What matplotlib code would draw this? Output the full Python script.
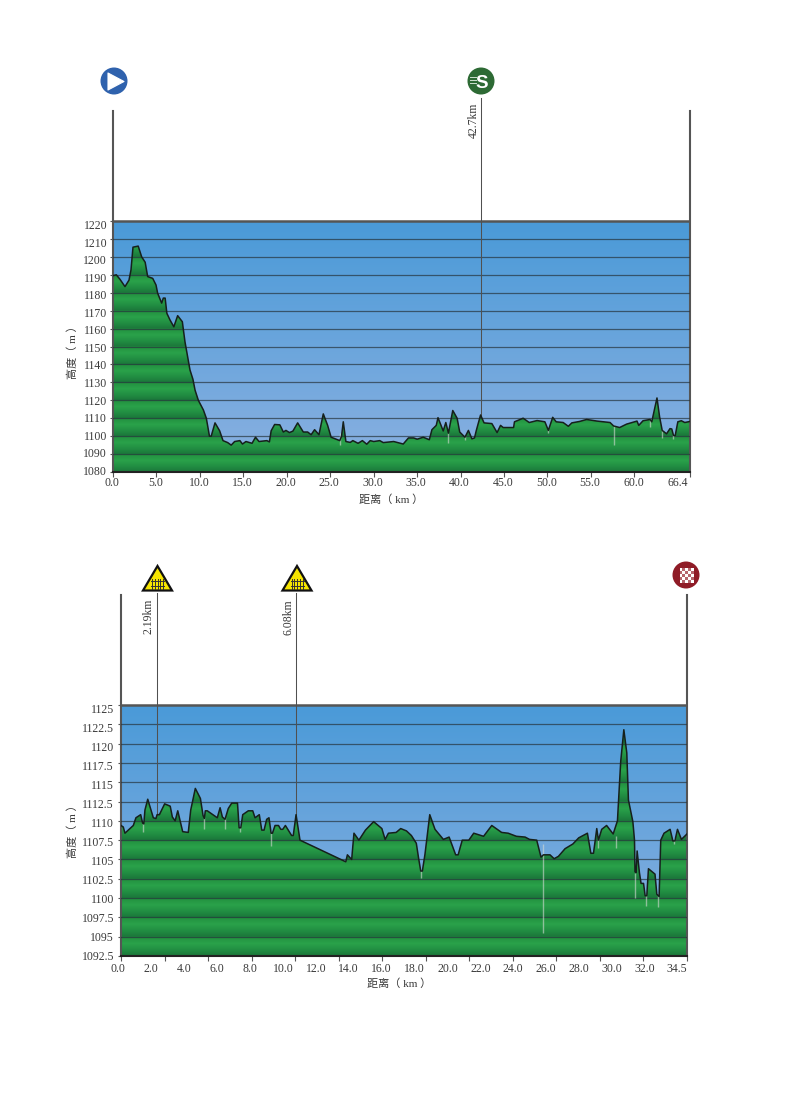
import numpy as np
import matplotlib
matplotlib.use('Agg')
import matplotlib.pyplot as plt
from matplotlib.colors import LinearSegmentedColormap
from matplotlib.patches import Circle, Polygon, Rectangle
from matplotlib.transforms import ScaledTranslation

plt.rcParams['font.family'] = ['Liberation Serif', 'Noto Sans CJK SC', 'DejaVu Sans']
plt.rcParams['font.size'] = 8.5

TEXT = '#3a3a3a'
POST = '#555555'

# upper profile
km_a = [0.0, 0.38, 0.8, 1.38, 1.84, 2.07, 2.3, 2.9, 3.3, 3.7, 3.99, 4.57, 4.95, 5.14, 5.6, 5.79, 6.0, 6.2,
        6.56, 7.0, 7.44, 7.98, 8.28, 8.86, 9.2, 9.44, 9.82, 10.4, 10.74, 11.1, 11.3, 11.74, 12.27, 12.66,
        13.2, 13.6, 14.0, 14.6, 14.9, 15.3, 16.0, 16.4, 16.8, 17.7, 18.0, 18.2, 18.6, 19.2, 19.6, 19.9,
        20.3, 20.7, 21.25, 21.9, 22.4, 22.8, 23.2, 23.7, 24.2, 24.7, 25.1, 26.1, 26.3, 26.5, 26.8, 27.3,
        27.6, 28.2, 28.7, 29.2, 29.6, 30.0, 30.7, 31.1, 32.3, 33.4, 34.0, 34.6, 35.0, 35.7, 36.4, 36.7,
        37.2, 37.4, 38.0, 38.3, 38.6, 39.1, 39.6, 39.9, 40.5, 40.9, 41.3, 41.6, 41.8, 42.3, 42.7, 43.6,
        44.2, 44.6, 44.9, 46.1, 46.2, 47.2, 47.9, 48.8, 49.7, 50.1, 50.6, 51.0, 51.8, 52.4, 52.8, 53.7,
        54.5, 55.7, 57.2, 57.6, 58.3, 59.1, 60.3, 60.5, 61.0, 61.8, 62.0, 62.6, 62.9, 63.2, 63.7, 64.1,
        64.3, 64.5, 64.7, 65.0, 65.4, 65.8, 66.4]
elev_a = [1189.5, 1190, 1187.5, 1183.4, 1187, 1192.7, 1205.4, 1206, 1200, 1197, 1189, 1188, 1184.3, 1179.7,
          1174.2, 1177, 1177, 1168.5, 1164.8, 1161, 1167.2, 1163.8, 1152.7, 1136.9, 1131.7, 1125.7, 1120,
          1114.6, 1110, 1100, 1100, 1107.4, 1103, 1097.5, 1096.4, 1095, 1097, 1097.5, 1095.6, 1097, 1096,
          1099.4, 1097, 1097.5, 1096.8, 1103, 1106.5, 1106.3, 1102.3, 1103.2, 1102, 1102.8, 1107.4, 1102.3,
          1102.3, 1100.8, 1103.6, 1100.8, 1112.4, 1106, 1099.4, 1097.5, 1100, 1108, 1097, 1096.5, 1097.5,
          1096, 1097.5, 1095.5, 1097.5, 1097, 1097.5, 1096.4, 1097, 1095.6, 1099, 1099, 1098.3, 1099.4, 1098,
          1103.6, 1106, 1110.3, 1102.9, 1107.6, 1101.7, 1114.3, 1110, 1102.3, 1099.4, 1103.2, 1098.5, 1099,
          1103, 1111.8, 1107.4, 1107, 1102, 1106, 1104.8, 1104.8, 1108, 1110, 1107.6, 1108.7, 1108, 1103.2,
          1110.5, 1108, 1107.6, 1105.5, 1107.4, 1108.2, 1109.3, 1108.4, 1107.6, 1105.7, 1104.8, 1106.7, 1108.4,
          1106, 1108.6, 1109.3, 1108, 1121.3, 1110.8, 1103.2, 1101.3, 1104.2, 1104, 1100.4, 1100.4, 1108,
          1108.6, 1107.6, 1108.2]
spike_km_a = [26.1, 38.6, 40.5, 57.6, 63.2, 64.5, 50.1, 61.8]
spike_low_a = [1095, 1096, 1098, 1095, 1099, 1098.5, 1101.5, 1105]
spike_high_a = [1102, 1102, 1100, 1106, 1104, 1101, 1104, 1109]
yticks_a = [1220, 1210, 1200, 1190, 1180, 1170, 1160, 1150, 1140, 1130, 1120, 1110, 1100, 1090, 1080]
xticks_a = [0, 5, 10, 15, 20, 25, 30, 35, 40, 45, 50, 55, 60, 66.4]
xlabels_a = ['0.0', '5.0', '10.0', '15.0', '20.0', '25.0', '30.0', '35.0', '40.0', '45.0', '50.0', '55.0',
             '60.0', '66.4']
marker_km_a = [42.4]
marker_elev_a = [1111]
marker_text_a = ['42.7km']

# lower profile
km_b = [0.0, 0.14, 0.24, 0.75, 0.91, 1.2, 1.32, 1.39, 1.46, 1.63, 1.97, 2.13, 2.2, 2.34, 2.66, 3.0, 3.13, 3.3,
        3.46, 3.76, 4.1, 4.25, 4.53, 4.84, 5.0, 5.08, 5.14, 5.26, 5.87, 6.04, 6.18, 6.34, 6.54, 6.75, 7.1,
        7.2, 7.3, 7.42, 7.76, 8.03, 8.17, 8.43, 8.58, 8.72, 8.88, 9.02, 9.15, 9.23, 9.39, 9.6, 9.74, 9.86,
        10.02, 10.4, 10.5, 10.67, 10.91, 13.7, 13.8, 14.06, 14.2, 14.5, 14.9, 15.4, 15.9, 16.1, 16.3, 16.77,
        17.05, 17.4, 17.7, 18.0, 18.13, 18.27, 18.37, 18.53, 18.82, 19.14, 19.65, 20.0, 20.4, 20.55, 20.8,
        21.2, 21.5, 22.1, 22.6, 23.2, 23.6, 24.1, 24.63, 24.9, 25.34, 25.6, 25.75, 26.15, 26.4, 26.66, 27.07,
        27.54, 27.9, 28.43, 28.64, 28.8, 29.0, 29.1, 29.3, 29.6, 30.0, 30.26, 30.46, 30.65, 30.83, 30.93,
        31.2, 31.3, 31.33, 31.4, 31.46, 31.6, 31.7, 31.85, 31.95, 32.05, 32.15, 32.55, 32.66, 32.8, 32.9,
        33.1, 33.47, 33.64, 33.76, 33.92, 34.16, 34.5]
elev_b = [1109.4, 1109.2, 1108.4, 1109.4, 1110.4, 1110.8, 1109.7, 1109.6, 1111.4, 1112.8, 1110.4, 1110.3,
          1110.8, 1110.8, 1112.2, 1111.9, 1110.5, 1110, 1111.3, 1108.6, 1108.5, 1111.4, 1114.2, 1112.9, 1110.7,
          1110.3, 1111.3, 1111.3, 1110.4, 1111.7, 1110.5, 1110.2, 1111.6, 1112.3, 1112.3, 1109.1, 1109.1,
          1110.8, 1111.3, 1111.3, 1110.4, 1110.8, 1108.8, 1108.8, 1110.2, 1110.4, 1108.4, 1108.4, 1109.4,
          1109.4, 1108.9, 1108.9, 1109.4, 1108.1, 1108.1, 1110.8, 1107.5, 1104.7, 1105.6, 1105, 1108.4, 1107.5,
          1108.8, 1109.9, 1109, 1107.6, 1108.4, 1108.5, 1109, 1108.7, 1108.1, 1107.1, 1105.3, 1103.5, 1103.5,
          1105.7, 1110.8, 1108.9, 1107.6, 1107.9, 1105.6, 1105.6, 1107.5, 1107.5, 1108.4, 1108, 1109.4, 1108.5,
          1108.4, 1108, 1107.9, 1107.6, 1107.5, 1105.3, 1105.6, 1105.6, 1105.1, 1105.4, 1106.4, 1107, 1107.8,
          1108.4, 1105.8, 1105.8, 1109, 1107.5, 1108.9, 1109.4, 1108.3, 1110, 1117.7, 1121.8, 1118.8, 1112.7,
          1109.9, 1107.5, 1103.4, 1103.3, 1106.1, 1103.3, 1101.9, 1101.9, 1100.3, 1100.3, 1103.8, 1103.1,
          1100.5, 1100.2, 1107.5, 1108.4, 1108.9, 1107.4, 1107.4, 1108.9, 1107.6, 1108.3]
spike_km_b = [1.32, 5.08, 6.34, 7.25, 9.15, 18.3, 25.71, 29.1, 30.2, 31.33, 32.0, 32.75, 33.7]
spike_low_b = [1108.5, 1109, 1109, 1108.5, 1106.8, 1102.6, 1095.5, 1106.5, 1106.5, 1100, 1099, 1098.8, 1107]
spike_high_b = [1110, 1110.5, 1110.5, 1109.5, 1108.5, 1103.6, 1107, 1108, 1108, 1103.3, 1100.5, 1100.5, 1107.8]
yticks_b = [1125, 1122.5, 1120, 1117.5, 1115, 1112.5, 1110, 1107.5, 1105, 1102.5, 1100, 1097.5, 1095, 1092.5]
xlabels_b = ['0.0', '2.0', '4.0', '6.0', '8.0', '10.0', '12.0', '14.0', '16.0', '18.0', '20.0', '22.0', '24.0',
             '26.0', '28.0', '30.0', '32.0', '34.5']
marker_km_b = [2.2, 10.67]
marker_elev_b = [1110.8, 1110.8]
marker_text_b = ['2.19km', '6.08km']

W, H = 791, 1119
fig = plt.figure(figsize=(W / 100, H / 100), dpi=100, facecolor='white')

sky_cmap = LinearSegmentedColormap.from_list('sky', ['#4a9ad8', '#8cb1e1'])
band_cmap = LinearSegmentedColormap.from_list('band', [(0, '#1b763a'), (0.3, '#218d42'), (0.65, '#2aa24a'),
                                                       (1, '#22903f')])


def profile(left, right, top, sky_top, bottom, km, elev, yticks, ylabel_pos, pad):
    # axes run from the top of the posts down to the base line, the sky only starts at yticks[0]
    ax = fig.add_axes([left / W, 1 - bottom / H, (right - left) / W, (bottom - top) / H])
    ymin, ymax = min(yticks), max(yticks)
    per_px = (ymax - ymin) / (bottom - sky_top)
    km_max = km[-1]
    ax.patch.set_alpha(0)

    ax.imshow(np.linspace(0, 1, 256).reshape(-1, 1), cmap=sky_cmap, extent=[0, km_max, ymin, ymax],
              aspect='auto', origin='upper', zorder=1)
    phase = np.linspace(0, len(yticks) - 1, 1300) % 1
    ground = ax.imshow(phase.reshape(-1, 1), cmap=band_cmap, vmin=0, vmax=1, extent=[0, km_max, ymin, ymax],
                       aspect='auto', origin='lower', zorder=2)
    poly = ax.fill_between(km, ymin, elev, color='none', zorder=2)
    ground.set_clip_path(poly.get_paths()[0], transform=ax.transData)

    for y in yticks[1:-1]:
        ax.axhline(y, color='#26343c', lw=0.9, alpha=0.7, zorder=3)
    ax.axhline(ymax, color=POST, lw=1.8, zorder=4)
    ax.plot(km, elev, color='#16201c', lw=1.1, zorder=5, solid_joinstyle='round')

    ax.spines['top'].set_visible(False)
    for side in ['left', 'right']:
        ax.spines[side].set_color(POST)
        ax.spines[side].set_linewidth(1.5)
    ax.spines['bottom'].set_color('#222222')
    ax.spines['bottom'].set_linewidth(1.5)

    ax.set_yticks(yticks, labels=[])
    ax.set_yticks(ylabel_pos, labels=[str(y) for y in yticks], minor=True)
    ax.tick_params(axis='y', which='major', length=2.5, width=0.8, color=POST)
    ax.tick_params(axis='y', which='minor', length=0, pad=pad, labelcolor=TEXT)
    ax.set_ylim(ymin, ymax + (sky_top - top) * per_px)
    ax.set_zorder(2)
    return ax


def finish_x(ax, km_max, ticks, label_pos, labels, pad, shift_px):
    # labels share some positions with the ticks, keep them anyway
    ax.xaxis.remove_overlapping_locs = False
    ax.set_xticks(ticks, labels=[])
    ax.set_xticks(label_pos, labels=labels, minor=True)
    ax.tick_params(axis='x', which='major', length=3.5, width=0.8, color=POST)
    ax.tick_params(axis='x', which='minor', length=0, pad=pad, labelcolor=TEXT)
    ax.set_xlim(0, km_max)
    # labels sit a little left of their ticks in the original
    offset = ScaledTranslation(shift_px / 100, 0, fig.dpi_scale_trans)
    for lab in ax.get_xticklabels(minor=True):
        lab.set_transform(lab.get_transform() + offset)


def add_spikes(ax, km, low, high):
    ax.vlines(km, low, high, color='#d4dad4', lw=1.0, alpha=0.6, zorder=4)


def add_markers(ax, km, elev, y_top):
    for k, e in zip(km, elev):
        ax.plot([k, k], [e, y_top], color='#505050', lw=0.75, clip_on=False, zorder=4)


# upper chart
ax_a = profile(113, 690, 111, 221, 472, km_a, elev_a, yticks_a, np.linspace(1217.8, 1081.1, 15), 4.2)
finish_x(ax_a, 66.4, xticks_a, [0, 5, 10, 15, 20, 25, 30, 35, 40, 45, 50, 55, 60, 65.12], xlabels_a, 3.5, -1)
add_spikes(ax_a, spike_km_a, spike_low_a, spike_high_a)
add_markers(ax_a, marker_km_a, marker_elev_a, 1220 + (221 - 98) * 140 / 251)

# lower chart
ax_b = profile(121, 687, 595, 705, 956, km_b, elev_b, yticks_b, np.linspace(1124.5, 1092.6, 14), 5)
finish_x(ax_b, 34.5, np.linspace(0, 34.5, 14), list(np.linspace(0, 32.1, 17)) + [34.06], xlabels_b, 5, -2.7)
add_spikes(ax_b, spike_km_b, spike_low_b, spike_high_b)
add_markers(ax_b, marker_km_b, marker_elev_b, 1125 + (705 - 593) * 32.5 / 251)

# icons and free text sit on a pixel overlay
ov = fig.add_axes([0, 0, 1, 1], zorder=10)
ov.set_xlim(0, W)
ov.set_ylim(H, 0)
ov.axis('off')
ov.patch.set_alpha(0)


def rail_icon(x):
    ov.add_patch(Polygon([(x, 566), (x + 14.5, 590.5), (x - 14.5, 590.5)], closed=True, fc='#f6e500', ec='#111111',
                         lw=1.6, joinstyle='miter'))
    for dx in [-5.5, -2.75, 0, 2.75, 5.5]:
        ov.plot([x + dx, x + dx], [579, 588.5], color='#333333', lw=0.7)
    for y in [581, 586]:
        ov.plot([x - 6.5, x + 6.5], [y, y], color='#333333', lw=0.7)


# start
ov.add_patch(Circle((114, 81), 13.5, fc='#2f62ad', ec='none'))
ov.add_patch(Polygon([(108, 73), (108, 90), (124, 81.5)], closed=True, fc='white', ec='white', lw=0.8,
                     joinstyle='round'))

# sprint
ov.add_patch(Circle((481, 81), 13.5, fc='#2d6a34', ec='none'))
ov.text(482, 81, 'S', color='white', fontsize=13.5, fontweight='bold', family=['Liberation Sans'], ha='center',
        va='center_baseline')
for y in [77, 80, 83]:
    ov.plot([470, 476], [y, y], color='#cfe0cf', lw=0.7)

# finish
ov.add_patch(Circle((686, 575), 13.5, fc='#8f1c27', ec='none'))
for row in range(5):
    for col in range(5):
        cell = 'white' if (row + col) % 2 == 0 else '#b5666d'
        ov.add_patch(Rectangle((679.5 + col * 2.9, 568 + row * 2.9), 2.9, 2.9, fc=cell, ec='none'))

rail_icon(157.5)
rail_icon(297)

ov.text(473.5, 103, marker_text_a[0], rotation=90, ha='center', va='top', color=TEXT)
ov.text(149, 599, marker_text_b[0], rotation=90, ha='center', va='top', color=TEXT)
ov.text(289, 599, marker_text_b[1], rotation=90, ha='center', va='top', color=TEXT)

ov.text(391, 500, '距离（ km ）', ha='center', va='center', color=TEXT, fontsize=8)
ov.text(399, 984, '距离（ km ）', ha='center', va='center', color=TEXT, fontsize=8)
ov.text(73, 350, '高度（ m ）', rotation=90, ha='center', va='center', color=TEXT, fontsize=8)
ov.text(73, 829, '高度（ m ）', rotation=90, ha='center', va='center', color=TEXT, fontsize=8)

fig.savefig('out.png', dpi=100)
